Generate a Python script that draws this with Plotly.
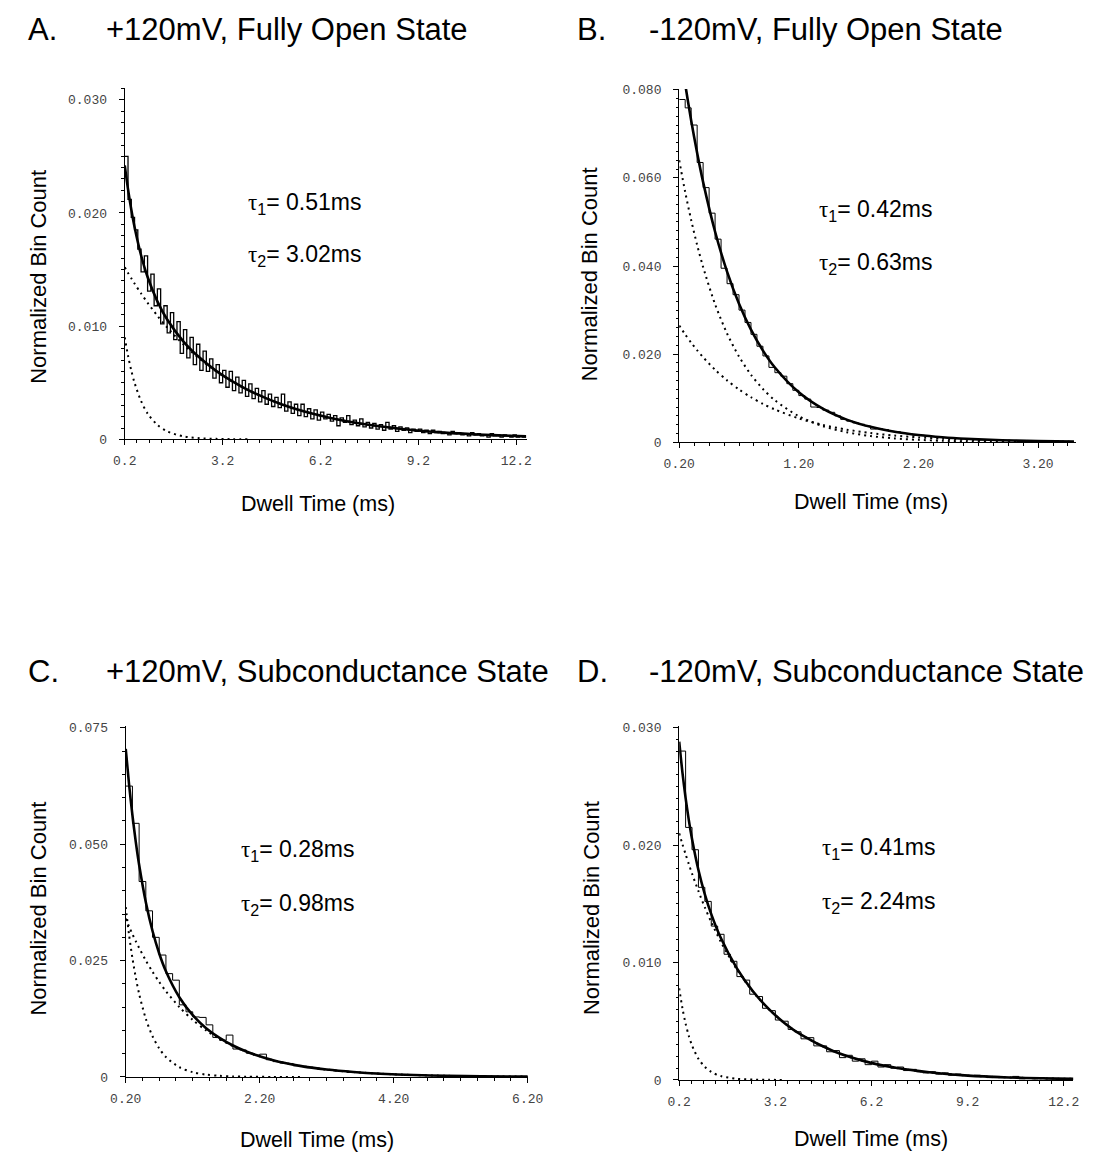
import plotly.graph_objects as go

W, H = 1104, 1161

# ---------------- Panel A: +120mV, Fully Open State ----------------
A_hist_start = 0.2
A_hist_bin = 0.1
A_hist = [0.0250, 0.0212, 0.0196, 0.0185, 0.0168, 0.0148, 0.0162, 0.0131, 0.0146, 0.0118,
          0.0133, 0.0102, 0.0118, 0.0094, 0.0112, 0.0088, 0.0104, 0.0076, 0.0097, 0.0072,
          0.0090, 0.0066, 0.0084, 0.0061, 0.0078, 0.0060, 0.0071, 0.0054, 0.0066, 0.0050,
          0.0061, 0.0046, 0.0060, 0.0043, 0.0055, 0.0041, 0.0052, 0.0038, 0.0049, 0.0036,
          0.0045, 0.0033, 0.0043, 0.0031, 0.0040, 0.0029, 0.0037, 0.0028, 0.0040, 0.0025,
          0.0033, 0.0023, 0.0031, 0.0021, 0.0031, 0.0020, 0.0027, 0.0018, 0.0026, 0.0017,
          0.0024, 0.0018, 0.0022, 0.0016, 0.0021, 0.0012, 0.0019, 0.0015, 0.0021, 0.0013,
          0.0017, 0.0012, 0.0018, 0.0011, 0.0015, 0.0010, 0.0014, 0.0009, 0.0013, 0.0008,
          0.0015, 0.0009, 0.0012, 0.0007, 0.0011, 0.0008, 0.0010, 0.0006, 0.0009, 0.0007,
          0.0009, 0.0006, 0.0008, 0.0005, 0.0008, 0.0006, 0.0007, 0.0005, 0.0006, 0.0004,
          0.0007, 0.0005, 0.0006, 0.0004, 0.0005, 0.0003, 0.0006, 0.0004, 0.0005, 0.0003,
          0.0004, 0.0002, 0.0005, 0.0003, 0.0004, 0.0002, 0.0004, 0.0003, 0.0002, 0.0004,
          0.0002, 0.0003, 0.0002]
A_fit_t = [0.2, 0.3, 0.4, 0.5, 0.7, 0.9, 1.2, 1.5, 2.0, 2.5, 3.0, 3.5, 4.0, 5.0, 6.0, 7.0,
           8.0, 9.0, 10.0, 11.0, 12.0, 12.5]
A_fit = [0.0242, 0.0221, 0.0203, 0.01876, 0.01626, 0.01434, 0.01219, 0.01058, 0.00864,
         0.0072, 0.00605, 0.00512, 0.00433, 0.0031, 0.00223, 0.0016, 0.00115, 0.00083,
         0.00059, 0.00043, 0.00031, 0.00026]
A_slow_t = [0.2, 0.3, 0.4, 0.5, 0.7, 0.9, 1.2, 1.5, 2.0, 2.5, 3.0, 3.5, 4.0, 5.0, 6.0, 7.0,
            8.0, 9.0, 10.0, 11.0, 12.0, 12.5]
A_slow = [0.0152, 0.0147, 0.01423, 0.01376, 0.01288, 0.01206, 0.01092, 0.00988, 0.00838,
          0.0071, 0.00601, 0.0051, 0.00432, 0.0031, 0.00223, 0.0016, 0.00115, 0.000825,
          0.000592, 0.000425, 0.000305, 0.000259]
A_fast_t = [0.2, 0.3, 0.4, 0.5, 0.7, 0.9, 1.2, 1.5, 2.0, 2.5, 3.0, 3.5, 4.0]
A_fast = [0.009, 0.0074, 0.00608, 0.005, 0.00338, 0.00228, 0.00127, 0.0007, 0.00026,
          0.0001, 0.00004, 0.000015, 0.000005]
A_xticks = [0.2, 3.2, 6.2, 9.2, 12.2]
A_xlabels = ["0.2", "3.2", "6.2", "9.2", "12.2"]
A_yticks = [0, 0.010, 0.020, 0.030]
A_ylabels = ["0", "0.010", "0.020", "0.030"]

# ---------------- Panel B: -120mV, Fully Open State ----------------
B_hist_start = 0.2
B_hist_bin = 0.05
B_hist = [0.0778, 0.0759, 0.0720, 0.0635, 0.0578, 0.0520, 0.0461, 0.0395, 0.0360, 0.0335,
          0.0300, 0.0272, 0.0245, 0.0218, 0.0196, 0.0170, 0.0158, 0.0150, 0.0133, 0.0118,
          0.0106, 0.0098, 0.0080, 0.0079, 0.0073, 0.0068, 0.0060, 0.0052, 0.0048, 0.0044,
          0.0041, 0.0037, 0.0030, 0.0031, 0.0029, 0.0025, 0.0024, 0.0020, 0.0019, 0.0016,
          0.0016, 0.0014, 0.0013, 0.0011, 0.0011, 0.0010, 0.0009, 0.0008, 0.0008, 0.0007,
          0.0006, 0.0006, 0.0005, 0.0005, 0.0004, 0.0004, 0.0004, 0.0003, 0.0003, 0.0003,
          0.0002, 0.0002, 0.0002, 0.0002, 0.0001, 0.0001]
B_t = [0.2, 0.25, 0.3, 0.35, 0.4, 0.5, 0.6, 0.7, 0.8, 0.9, 1.0, 1.2, 1.4, 1.6, 1.8, 2.0,
       2.2, 2.4, 2.6, 2.8, 3.0, 3.2, 3.5]
B_fit = [0.0905, 0.0813, 0.07305, 0.06566, 0.05905, 0.04779, 0.03874, 0.03144, 0.02556,
         0.02081, 0.01697, 0.01134, 0.00763, 0.00515, 0.00351, 0.0024, 0.00166, 0.00115,
         0.0008, 0.00056, 0.00039, 0.00028, 0.00016]
B_fast = [0.064, 0.05682, 0.05044, 0.04478, 0.03976, 0.03133, 0.02469, 0.01946, 0.01534,
          0.01209, 0.00953, 0.00592, 0.00368, 0.00228, 0.00142, 0.00088, 0.00055, 0.00034,
          0.00021, 0.00013, 0.00008, 0.00005, 0.00002]
B_slow = [0.0265, 0.02448, 0.02261, 0.02088, 0.01929, 0.01646, 0.01405, 0.01198, 0.01022,
          0.00872, 0.00744, 0.00542, 0.00395, 0.00287, 0.00209, 0.00152, 0.00111, 0.00081,
          0.00059, 0.00043, 0.00031, 0.00023, 0.00014]
B_xticks = [0.2, 1.2, 2.2, 3.2]
B_xlabels = ["0.20", "1.20", "2.20", "3.20"]
B_yticks = [0, 0.020, 0.040, 0.060, 0.080]
B_ylabels = ["0", "0.020", "0.040", "0.060", "0.080"]

# ---------------- Panel C: +120mV, Subconductance State ----------------
C_hist_start = 0.2
C_hist_bin = 0.1
C_hist = [0.0625, 0.0545, 0.0420, 0.0357, 0.0300, 0.0262, 0.0222, 0.0208, 0.0155, 0.0140,
          0.0129, 0.0128, 0.0112, 0.0085, 0.0079, 0.0090, 0.0060, 0.0058, 0.0051, 0.0047,
          0.0049, 0.0037, 0.0033, 0.0030, 0.0029, 0.0024, 0.0023, 0.0020, 0.0019, 0.0016,
          0.0015, 0.0013, 0.0013, 0.0010, 0.0010, 0.0009, 0.0008, 0.0008, 0.0006, 0.0006,
          0.0005, 0.0005, 0.0004, 0.0004, 0.0004, 0.0003, 0.0003, 0.0003, 0.0002, 0.0002,
          0.0002, 0.0002, 0.0002, 0.0001, 0.0001, 0.0001, 0.0001, 0.0001, 0.0001, 0.0001]
C_t = [0.2, 0.25, 0.3, 0.35, 0.4, 0.5, 0.6, 0.7, 0.8, 1.0, 1.2, 1.4, 1.6, 1.8, 2.0, 2.4,
       2.8, 3.2, 3.6, 4.0, 4.5, 5.0, 5.5, 6.2]
C_fit = [0.0705, 0.06284, 0.05624, 0.05053, 0.04559, 0.03753, 0.03136, 0.02653, 0.02271,
         0.01713, 0.01328, 0.01049, 0.0084, 0.00676, 0.00548, 0.00361, 0.00239, 0.00159,
         0.00106, 0.0007, 0.00042, 0.00025, 0.00015, 0.000075]
C_slow = [0.034, 0.03231, 0.0307, 0.02917, 0.02772, 0.02503, 0.02261, 0.02041, 0.01843,
          0.01503, 0.01225, 0.00999, 0.00815, 0.00664, 0.00542, 0.0036, 0.00239, 0.00159,
          0.00106, 0.0007, 0.00042, 0.00025, 0.00015, 0.000075]
C_fast_t = [0.2, 0.25, 0.3, 0.35, 0.4, 0.5, 0.6, 0.7, 0.8, 1.0, 1.2, 1.4, 1.6, 1.8, 2.0,
            2.4, 2.8]
C_fast = [0.0365, 0.03053, 0.02554, 0.02136, 0.01787, 0.0125, 0.00875, 0.00612, 0.00428,
          0.0021, 0.00103, 0.0005, 0.00025, 0.00012, 0.00006, 0.00001, 0.0]
C_xticks = [0.2, 2.2, 4.2, 6.2]
C_xlabels = ["0.20", "2.20", "4.20", "6.20"]
C_yticks = [0, 0.025, 0.050, 0.075]
C_ylabels = ["0", "0.025", "0.050", "0.075"]

# ---------------- Panel D: -120mV, Subconductance State ----------------
D_hist_start = 0.2
D_hist_bin = 0.2
D_hist = [0.0280, 0.0215, 0.0196, 0.0164, 0.0152, 0.0131, 0.0124, 0.0107, 0.0101, 0.0088,
          0.0085, 0.0073, 0.0071, 0.0061, 0.0059, 0.0051, 0.0050, 0.0043, 0.0041, 0.0035,
          0.0036, 0.0029, 0.0029, 0.0024, 0.0025, 0.0019, 0.0021, 0.0016, 0.0018, 0.0013,
          0.0016, 0.0011, 0.0013, 0.0010, 0.0011, 0.0008, 0.0009, 0.0007, 0.0006, 0.0007,
          0.0005, 0.0006, 0.0004, 0.0005, 0.0004, 0.0003, 0.0004, 0.0003, 0.0002, 0.0003,
          0.0002, 0.0002, 0.0003, 0.0001, 0.0002, 0.0001, 0.0002, 0.0001, 0.0001, 0.0001,
          0.0001]
D_t = [0.2, 0.3, 0.4, 0.5, 0.6, 0.8, 1.0, 1.2, 1.5, 2.0, 2.5, 3.0, 3.5, 4.0, 5.0, 6.0,
       7.0, 8.0, 9.0, 10.0, 11.0, 12.0, 12.5]
D_fit = [0.0288, 0.02619, 0.024, 0.02212, 0.02051, 0.01787, 0.0158, 0.01412, 0.01208,
         0.0095, 0.00755, 0.00603, 0.00481, 0.00385, 0.00246, 0.00158, 0.00101, 0.00065,
         0.00041, 0.00026, 0.00017, 0.00011, 0.00009]
D_slow = [0.021, 0.02008, 0.01921, 0.01837, 0.01757, 0.01607, 0.01469, 0.01344, 0.01175,
          0.0094, 0.00752, 0.00602, 0.00481, 0.00385, 0.00246, 0.00158, 0.00101, 0.00065,
          0.00041, 0.00026, 0.00017, 0.00011, 0.00009]
D_fast_t = [0.2, 0.3, 0.4, 0.5, 0.6, 0.8, 1.0, 1.2, 1.5, 2.0, 2.5, 3.0, 3.5]
D_fast = [0.0078, 0.00611, 0.00479, 0.00375, 0.00294, 0.0018, 0.00111, 0.00068, 0.00033,
          0.0001, 0.00003, 0.00001, 0.0]
D_xticks = [0.2, 3.2, 6.2, 9.2, 12.2]
D_xlabels = ["0.2", "3.2", "6.2", "9.2", "12.2"]
D_yticks = [0, 0.010, 0.020, 0.030]
D_ylabels = ["0", "0.010", "0.020", "0.030"]

# ---------------- texts ----------------
panel_letters = ["A.", "B.", "C.", "D."]
panel_titles = ["+120mV, Fully Open State", "-120mV, Fully Open State",
                "+120mV, Subconductance State", "-120mV, Subconductance State"]
tau1_values = ["0.51ms", "0.42ms", "0.28ms", "0.41ms"]
tau2_values = ["3.02ms", "0.63ms", "0.98ms", "2.24ms"]
y_title = "Normalized Bin Count"
x_title = "Dwell Time (ms)"

# ---------------- layout geometry (pixels) ----------------
panels = [
    dict(hist=(A_hist, A_hist_start, A_hist_bin), fit=(A_fit_t, A_fit),
         comps=[(A_fast_t, A_fast), (A_slow_t, A_slow)],
         xt=(A_xticks, A_xlabels), yt=(A_yticks, A_ylabels),
         xr=[0.2, 12.52], yr=[0, 0.031], px_x=(112, 526), px_y=(83.5, 439),
         xminor=0.375, yminor=0.001, hw=1.3,
         letter=(10, 24), title=(91, 24), tau=(237, 200, 253),
         ytl=(23, 274), xtl=(311, 505)),
    dict(hist=(B_hist, B_hist_start, B_hist_bin), fit=(B_t, B_fit),
         comps=[(B_t, B_fast), (B_t, B_slow)],
         xt=(B_xticks, B_xlabels), yt=(B_yticks, B_ylabels),
         xr=[0.2, 3.52], yr=[0, 0.0802], px_x=(683, 1092), px_y=(84, 442),
         xminor=0.125, yminor=0.002, hw=1,
         letter=(576, 24), title=(650, 24), tau=(825, 207, 261),
         ytl=(591, 272), xtl=(881, 502)),
    dict(hist=(C_hist, C_hist_start, C_hist_bin), fit=(C_t, C_fit),
         comps=[(C_fast_t, C_fast), (C_t, C_slow)],
         xt=(C_xticks, C_xlabels), yt=(C_yticks, C_ylabels),
         xr=[0.2, 6.2], yr=[0, 0.0755], px_x=(113, 527), px_y=(729, 1085),
         xminor=0.25, yminor=0.005, hw=1,
         letter=(10, 674), title=(91, 674), tau=(230, 856, 910),
         ytl=(23, 914), xtl=(310, 1149)),
    dict(hist=(D_hist, D_hist_start, D_hist_bin), fit=(D_t, D_fit),
         comps=[(D_fast_t, D_fast), (D_t, D_slow)],
         xt=(D_xticks, D_xlabels), yt=(D_yticks, D_ylabels),
         xr=[0.2, 12.5], yr=[0, 0.03017], px_x=(683, 1089), px_y=(729, 1088),
         xminor=0.375, yminor=0.001, hw=1,
         letter=(576, 674), title=(650, 674), tau=(828, 854, 908),
         ytl=(592, 914), xtl=(881, 1148)),
]

SANS = "Liberation Sans, Arial, Helvetica, sans-serif"
MONO = "Liberation Mono, DejaVu Sans Mono, monospace"

fig = go.Figure()
layout_axes = {}
annotations = []


def px(xp):
    return xp / W


def py(yp):
    return 1 - yp / H


for i, p in enumerate(panels):
    n = "" if i == 0 else str(i + 1)
    xa, ya = "x" + n, "y" + n
    vals, start, binw = p["hist"]
    fig.add_trace(go.Scatter(x0=start, dx=binw, y=list(vals) + [vals[-1]], mode="lines",
                             line=dict(color="black", width=p["hw"], shape="hv"),
                             xaxis=xa, yaxis=ya, showlegend=False, hoverinfo="skip"))
    for ct, cv in p["comps"]:
        fig.add_trace(go.Scatter(x=ct, y=cv, mode="lines",
                                 line=dict(color="black", width=2, dash="2px,4px",
                                           shape="spline", smoothing=0.8),
                                 xaxis=xa, yaxis=ya, showlegend=False, hoverinfo="skip"))
    ft, fv = p["fit"]
    fig.add_trace(go.Scatter(x=ft, y=fv, mode="lines",
                             line=dict(color="black", width=2.6, shape="spline",
                                       smoothing=0.8),
                             xaxis=xa, yaxis=ya, showlegend=False, hoverinfo="skip"))

    x0p, x1p = p["px_x"]
    ytop, ybot = p["px_y"]
    common = dict(showgrid=False, zeroline=False, showline=True, linecolor="black",
                  linewidth=1.3, ticks="outside", ticklen=5, tickwidth=1,
                  tickcolor="black", fixedrange=True,
                  tickfont=dict(family=MONO, size=13, color="#444"))
    layout_axes["xaxis" + n] = dict(
        common, domain=[px(x0p), px(x1p)], range=p["xr"], anchor=ya,
        tickmode="array", tickvals=p["xt"][0], ticktext=p["xt"][1],
        ticklabelstandoff=4,
        minor=dict(ticks="outside", ticklen=2.5, tickwidth=1, tickcolor="black",
                   tickmode="linear", tick0=p["xr"][0], dtick=p["xminor"]))
    layout_axes["yaxis" + n] = dict(
        common, domain=[py(ybot), py(ytop)], range=p["yr"], anchor=xa,
        tickmode="array", tickvals=p["yt"][0], ticktext=p["yt"][1],
        ticklabelstandoff=9,
        minor=dict(ticks="outside", ticklen=2.5, tickwidth=1, tickcolor="black",
                   tickmode="linear", tick0=0, dtick=p["yminor"]))

    lx, ly = p["letter"]
    annotations.append(dict(text=panel_letters[i], x=px(lx), y=py(ly), xref="paper",
                            yref="paper", xanchor="left", yanchor="middle",
                            showarrow=False, font=dict(family=SANS, size=31, color="black")))
    tx, ty = p["title"]
    annotations.append(dict(text=panel_titles[i], x=px(tx), y=py(ty), xref="paper",
                            yref="paper", xanchor="left", yanchor="middle",
                            showarrow=False, font=dict(family=SANS, size=31, color="black")))
    ux, u1, u2 = p["tau"]
    tau_sym = '<span style="font-family:Liberation Serif">τ</span>'
    annotations.append(dict(text=tau_sym + "<sub>1</sub>= " + tau1_values[i],
                            x=px(ux), y=py(u1), xref="paper", yref="paper",
                            xanchor="left", yanchor="middle", showarrow=False,
                            font=dict(family=SANS, size=23, color="black")))
    annotations.append(dict(text=tau_sym + "<sub>2</sub>= " + tau2_values[i],
                            x=px(ux), y=py(u2), xref="paper", yref="paper",
                            xanchor="left", yanchor="middle", showarrow=False,
                            font=dict(family=SANS, size=23, color="black")))
    yx, yy = p["ytl"]
    annotations.append(dict(text=y_title, x=px(yx), y=py(yy), xref="paper", yref="paper",
                            xanchor="center", yanchor="middle", textangle=-90,
                            showarrow=False, font=dict(family=SANS, size=22, color="black")))
    xx, xy = p["xtl"]
    annotations.append(dict(text=x_title, x=px(xx), y=py(xy), xref="paper", yref="paper",
                            xanchor="center", yanchor="middle",
                            showarrow=False, font=dict(family=SANS, size=21.5, color="black")))

fig.update_layout(width=W, height=H, margin=dict(l=0, r=0, t=0, b=0),
                  paper_bgcolor="white", plot_bgcolor="white",
                  annotations=annotations, showlegend=False, **layout_axes)

fig.write_html("out.html", config={"displayModeBar": False},
               post_script="document.body.style.margin='0';"
                           "document.body.style.overflow='hidden';")
